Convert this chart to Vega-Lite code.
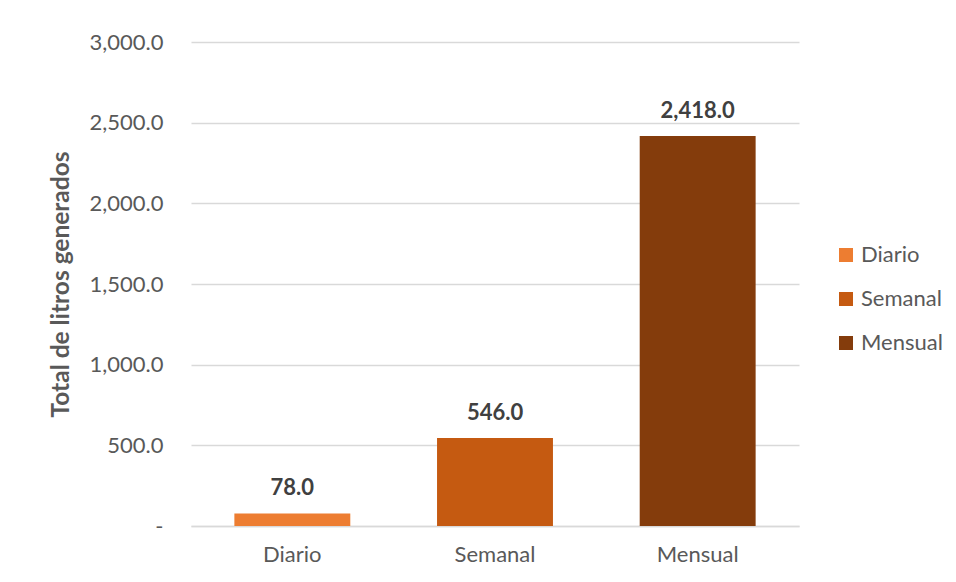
{
  "$schema": "https://vega.github.io/schema/vega-lite/v6.json",
  "autosize": {"type": "none"},
  "padding": {"left": 191, "top": 42, "right": 157, "bottom": 56},
  "width": 608,
  "height": 484,
  "background": "white",
  "data": {
    "values": [
      {"periodo": "Diario", "litros": 78.0},
      {"periodo": "Semanal", "litros": 546.0},
      {"periodo": "Mensual", "litros": 2418.0}
    ]
  },
  "encoding": {
    "x": {
      "field": "periodo",
      "type": "nominal",
      "sort": ["Diario", "Semanal", "Mensual"],
      "scale": {"paddingInner": 0.428, "paddingOuter": 0.214},
      "axis": {
        "title": null,
        "labelAngle": 0,
        "labelFont": "Lato",
        "labelFontSize": 22,
        "labelColor": "#595959",
        "labelPadding": 18,
        "ticks": false,
        "domainColor": "#D9D9D9",
        "domainWidth": 1.3
      }
    },
    "y": {
      "field": "litros",
      "type": "quantitative",
      "scale": {"domain": [0, 3000], "nice": false},
      "axis": {
        "title": "Total de litros generados",
        "titleFont": "Lato",
        "titleFontSize": 24.5,
        "titleFontWeight": "bold",
        "titleColor": "#595959",
        "titlePadding": 16,
        "values": [0, 500, 1000, 1500, 2000, 2500, 3000],
        "labelExpr": "datum.value == 0 ? '-\u2002' : format(datum.value, ',.1f')",
        "labelFont": "Lato",
        "labelFontSize": 22,
        "labelColor": "#595959",
        "labelPadding": 28,
        "ticks": false,
        "domain": false,
        "grid": true,
        "gridColor": "#D9D9D9",
        "gridWidth": 1.3
      }
    }
  },
  "layer": [
    {
      "mark": {"type": "bar"},
      "encoding": {
        "color": {
          "field": "periodo",
          "type": "nominal",
          "sort": ["Diario", "Semanal", "Mensual"],
          "scale": {
            "domain": ["Diario", "Semanal", "Mensual"],
            "range": ["#ED7D31", "#C55A11", "#843C0C"]
          },
          "legend": {
            "title": null,
            "orient": "none",
            "legendX": 644,
            "legendY": 202,
            "padding": 0,
            "symbolType": "square",
            "symbolSize": 196,
            "symbolStrokeWidth": 0,
            "symbolOpacity": 1,
            "labelFont": "Lato",
            "labelFontSize": 22,
            "labelColor": "#595959",
            "labelOffset": 4,
            "rowPadding": 22
          }
        }
      }
    },
    {
      "mark": {
        "type": "text",
        "font": "Lato",
        "fontSize": 22,
        "fontWeight": "bold",
        "color": "#404040",
        "baseline": "alphabetic",
        "dy": -18
      },
      "encoding": {
        "text": {"field": "litros", "type": "quantitative", "format": ",.1f"}
      }
    }
  ],
  "config": {
    "view": {"stroke": null}
  }
}
